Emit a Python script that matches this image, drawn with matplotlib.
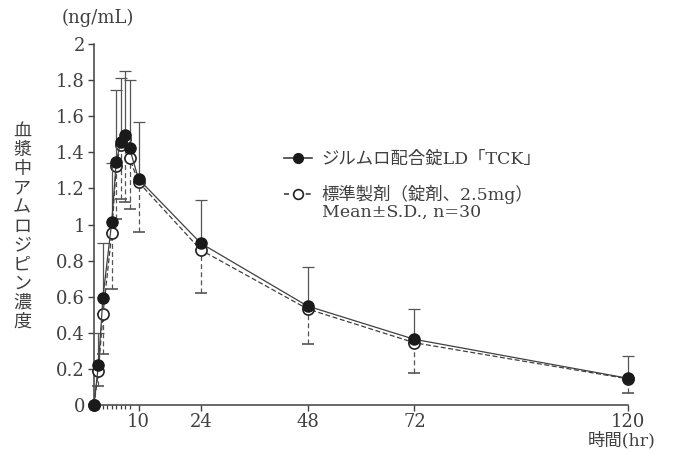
import numpy as np
import matplotlib
matplotlib.use('Agg')
import matplotlib.pyplot as plt

# Latin text in a serif face, Japanese falls back to Noto CJK
plt.rcParams['font.family'] = ['DejaVu Serif', 'Noto Sans CJK JP']

# sampling times (hr)
time_hr = [0, 1, 2, 4, 5, 6, 7, 8, 10, 24, 48, 72, 120]

# test formulation, mean and S.D. (ng/mL)
test_mean = [0, 0.223, 0.594, 1.016, 1.348, 1.459, 1.496, 1.422, 1.252,
             0.896, 0.548, 0.364, 0.148]
test_sd = [0, 0.177, 0.301, 0.324, 0.397, 0.351, 0.354, 0.378, 0.318,
           0.239, 0.215, 0.166, 0.124]

# reference formulation, mean and S.D. (ng/mL)
ref_mean = [0, 0.190, 0.502, 0.951, 1.326, 1.440, 1.475, 1.367, 1.235,
            0.859, 0.532, 0.345, 0.145]
ref_sd = [0, 0.085, 0.219, 0.306, 0.296, 0.300, 0.349, 0.280, 0.275,
          0.239, 0.193, 0.165, 0.080]

major_ticks = [10, 24, 48, 72, 120]
minor_ticks = [1, 2, 3, 4, 5, 6, 7, 8]
y_ticks = [0, 0.2, 0.4, 0.6, 0.8, 1, 1.2, 1.4, 1.6, 1.8, 2]
y_ticklabels = ['0', '0.2', '0.4', '0.6', '0.8', '1', '1.2', '1.4', '1.6', '1.8', '2']

test_label = "ジルムロ配合錠LD「TCK」"
ref_label = "標準製剤（錠剤、2.5mg）"
note_text = "Mean±S.D., n=30"
y_title = "血漿中アムロジピン濃度"
unit_text = "(ng/mL)"
x_title = "時間(hr)"

ink = '#404040'

fig = plt.figure(figsize=(6.81, 4.54), dpi=100)
ax = fig.add_axes([94/681, 49/454, 534/681, 361/454])

t = np.array(time_hr)
zero = np.zeros(len(t))

# reference: dashed line, open circles, S.D. drawn downward
eb_ref = ax.errorbar(t, ref_mean, yerr=[ref_sd, zero], fmt='o', ls='--',
                     dashes=(4, 2), color=ink, lw=0.9, ms=8, mfc='white',
                     mec='#222222', mew=1.2, ecolor='#555555', elinewidth=0.9,
                     capsize=4, capthick=0.9, zorder=3, clip_on=False)
eb_ref[2][0].set_linestyle((0, (4, 2.5)))

# test: solid line, filled circles, S.D. drawn upward
ax.errorbar(t, test_mean, yerr=[zero, test_sd], fmt='o', ls='-',
            color=ink, lw=0.9, ms=8, mfc='#1a1a1a', mec='#1a1a1a',
            ecolor='#555555', elinewidth=0.9, capsize=4, capthick=0.9,
            zorder=4, clip_on=False)

ax.set_xlim(0, 120)
ax.set_ylim(0, 2)
ax.spines['top'].set_visible(False)
ax.spines['right'].set_visible(False)
for s in ['left', 'bottom']:
    ax.spines[s].set_color(ink)
    ax.spines[s].set_linewidth(1.1)

ax.set_xticks(major_ticks)
ax.set_xticks(minor_ticks, minor=True)
ax.set_yticks(y_ticks)
ax.set_yticklabels(y_ticklabels)
ax.tick_params(axis='both', which='major', direction='out', length=4,
               width=1.0, color=ink, labelcolor=ink, labelsize=13)
ax.tick_params(axis='x', which='minor', direction='out', length=3,
               width=0.9, color=ink)
ax.tick_params(axis='x', which='major', pad=2)
ax.tick_params(axis='y', which='major', pad=2.5)

# legend
handles = [
    plt.Line2D([], [], color=ink, lw=1.2, marker='o', ms=7,
               mfc='#1a1a1a', mec='#1a1a1a'),
    plt.Line2D([], [], color=ink, lw=1.2, ls=(0, (3, 3.5)), marker='o', ms=7,
               mfc='white', mec='#222222', mew=1.2),
]
leg = ax.legend(handles, [test_label, ref_label], loc='upper left',
                bbox_to_anchor=(284/681, 1 - 151/454),
                bbox_transform=fig.transFigure, frameon=False,
                fontsize=12.5, handlelength=1.6, handletextpad=0.55,
                labelspacing=0.95, borderpad=0, borderaxespad=0)
for txt in leg.get_texts():
    txt.set_color(ink)
fig.text(322/681, 1 - 212/454, note_text, fontsize=12.5, color=ink,
         ha='left', va='center')

# axis titles
fig.text(98/681, 1 - 18/454, unit_text, fontsize=13, color=ink,
         ha='center', va='center')
fig.text(622/681, 1 - 441/454, x_title, fontsize=12.5, color=ink,
         ha='center', va='center')

# vertical y title, one character per row
n = len(y_title)
for i, ch in enumerate(y_title):
    y = 1 - (131 + i * (322 - 131) / (n - 1)) / 454
    fig.text(22/681, y, ch, fontsize=13, color=ink, ha='center',
             va='center')

fig.savefig('out.png', dpi=100)
